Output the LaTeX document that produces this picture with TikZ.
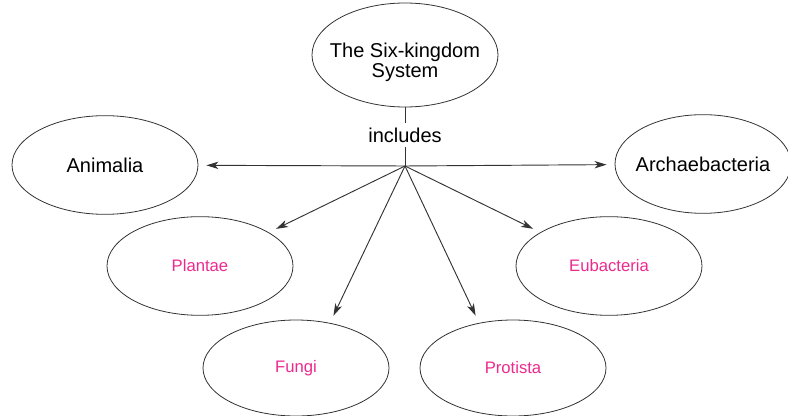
\documentclass[tikz,border=0pt]{standalone}
\usepackage{fontspec}
\setmainfont{Liberation Sans}
\usetikzlibrary{shapes.geometric, arrows.meta}
\definecolor{kingdompink}{HTML}{EC2A8E}
\tikzstyle{kingdom} = [ellipse, draw=black!80, line width=0.6pt, minimum width=139.5pt, minimum height=74pt, inner sep=0pt, font=\fontsize{15}{14.5}\selectfont]
\tikzstyle{newkingdom} = [kingdom, text=kingdompink, font=\fontsize{12.5}{13}\selectfont]
\tikzstyle{arrow} = [line width=0.7pt, draw=black!80, -{Stealth[length=9pt,width=5.5pt,inset=2.5pt]}, shorten >=6pt]

\begin{document}
\begin{tikzpicture}[x=0.75pt, y=-0.75pt]
        \useasboundingbox (0,0) rectangle (788,416);
        \node (top) [kingdom, align=center, inner xsep=-8pt, minimum height=78pt] at (405,55) {\rule{0pt}{22pt}The Six-kingdom\\System};
        \node (incl) [inner sep=3pt, font=\fontsize{15}{15}\selectfont] at (405,135) {includes};
        \coordinate (hub) at (405,166);
        \draw [line width=0.7pt, black!80] (top) -- (incl);
        \draw [line width=0.7pt, black!80] (incl) -- (hub);
        \node (animalia) [kingdom] at (105,165) {Animalia};
        \node (archae) [kingdom, inner xsep=-8pt, minimum width=132pt] at (703,164) {Archaebacteria};
        \node (plantae) [newkingdom] at (200,266) {Plantae};
        \node (eubact) [newkingdom] at (609,266) {Eubacteria};
        \node (fungi) [newkingdom, minimum height=72pt] at (296,368) {Fungi};
        \node (protista) [newkingdom, minimum height=72pt] at (513,368) {Protista};
        \draw [arrow] (hub) -- (animalia);
        \draw [arrow] (hub) -- (archae);
        \draw [arrow] (hub) -- (plantae);
        \draw [arrow] (hub) -- (eubact);
        \draw [arrow] (hub) -- (fungi.53);
        \draw [arrow] (hub) -- (protista.127);
\end{tikzpicture}
\end{document}
